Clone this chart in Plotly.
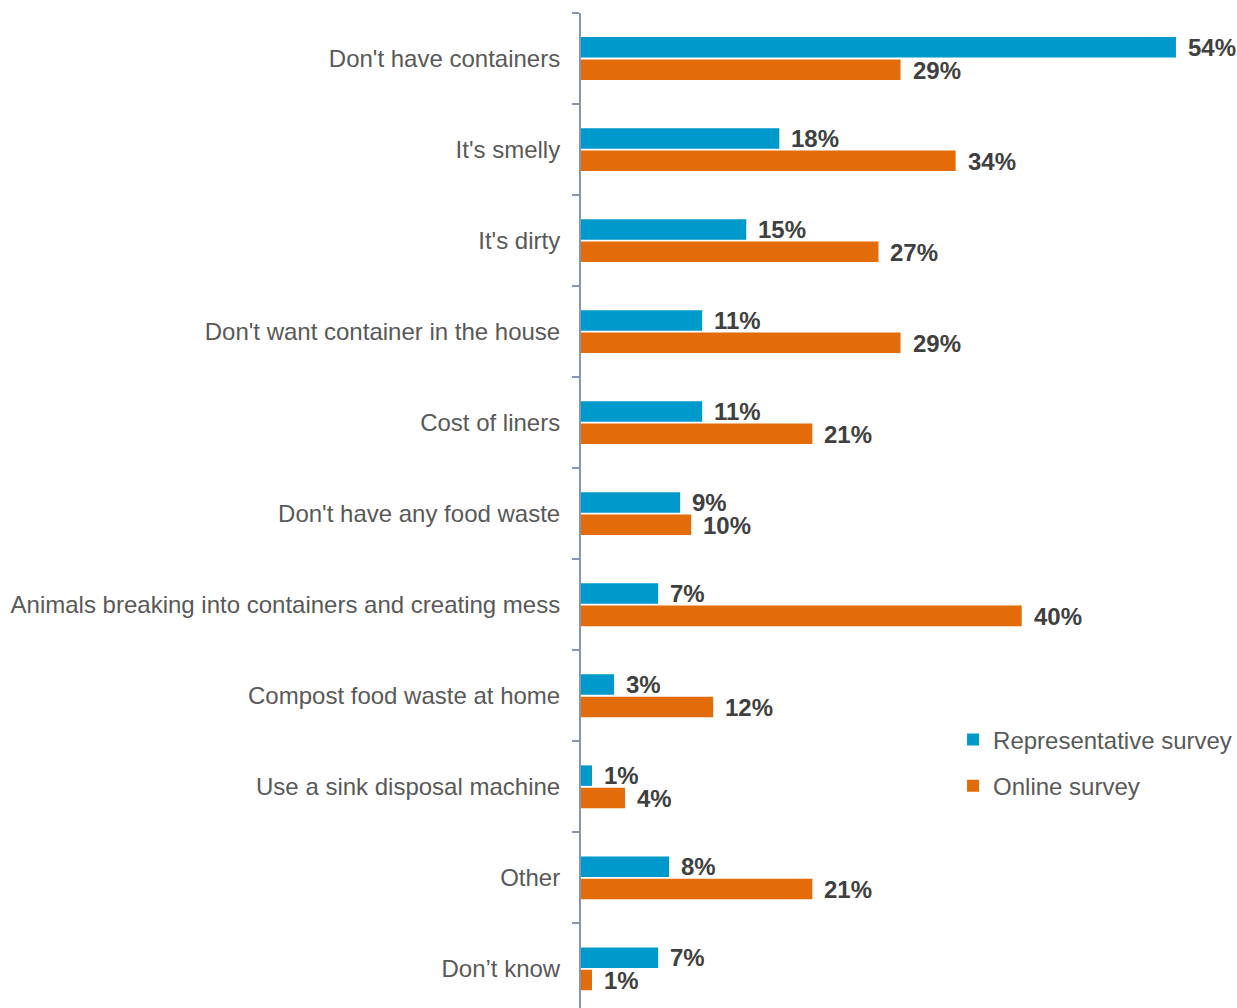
import plotly.graph_objects as go

categories = [
    "Don't have containers",
    "It's smelly",
    "It's dirty",
    "Don't want container in the house",
    "Cost of liners",
    "Don't have any food waste",
    "Animals breaking into containers and creating mess",
    "Compost food waste at home",
    "Use a sink disposal machine",
    "Other",
    "Don\u2019t know",
]
representative = [54, 18, 15, 11, 11, 9, 7, 3, 1, 8, 7]
online = [29, 34, 27, 29, 21, 10, 40, 12, 4, 21, 1]

series = [
    ("Representative survey", representative, "#0099CC", -11.5),
    ("Online survey", online, "#E36C0A", 11.5),
]

FONT = "Liberation Sans, Arial, sans-serif"

fig = go.Figure()
annotations = []
for name, vals, color, shift in series:
    fig.add_trace(go.Bar(
        name=name, y=categories, x=vals, orientation="h",
        marker=dict(color=color, line=dict(width=0)),
        legendgroup=name,
    ))
    # value labels placed just past the end of each bar
    for cat, v in zip(categories, vals):
        annotations.append(dict(
            x=v, y=cat, xref="x", yref="y", text=f"<b>{v}%</b>",
            showarrow=False, xanchor="left", yanchor="middle",
            xshift=10, yshift=-shift, height=22, valign="middle",
            font=dict(family=FONT, size=24, color="#404040"),
        ))

fig.update_layout(
    width=1237, height=1008,
    margin=dict(l=581, r=39, t=13, b=0, pad=0, autoexpand=False),
    plot_bgcolor="white", paper_bgcolor="white",
    barmode="group", bargap=0.51, bargroupgap=0.08,
    font=dict(family=FONT, size=24, color="#595959"),
    showlegend=True,
    legend=dict(
        x=0.603, y=0.292, xanchor="left", yanchor="top",
        font=dict(size=24, color="#595959"),
        tracegroupgap=12, itemwidth=30, bgcolor="rgba(0,0,0,0)",
    ),
    annotations=annotations,
)
fig.update_xaxes(range=[0, 56], visible=False, showgrid=False, zeroline=False)
fig.update_yaxes(
    type="category", range=[10.43, -0.5],
    showline=True, linecolor="#8497B0", linewidth=2,
    ticks="outside", tickson="boundaries", ticklen=7, tickcolor="#8497B0", tickwidth=2,
    ticklabelstandoff=14, showgrid=False, zeroline=False,
    tickfont=dict(size=24, color="#595959"),
)

fig.write_html("out.html")
